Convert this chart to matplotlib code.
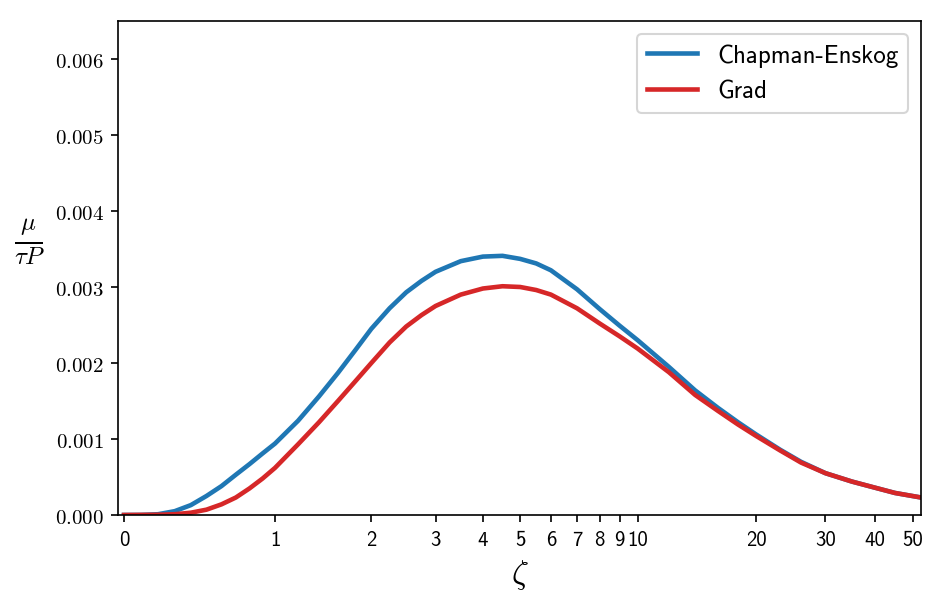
import numpy as np
import matplotlib
matplotlib.use('Agg')
import matplotlib.pyplot as plt
from matplotlib.ticker import FixedLocator, FixedFormatter, NullLocator

plt.rcParams['mathtext.fontset'] = 'cm'

# values
zeta_ce = [0, 0.1, 0.2, 0.3, 0.4, 0.5, 0.6, 0.7, 0.8, 0.9, 1.0, 1.2, 1.4, 1.6, 1.8,
           2.0, 2.25, 2.5, 2.75, 3.0, 3.5, 4.0, 4.5, 5.0, 5.5, 6.0, 7.0, 8.0, 9.0,
           10, 12, 14, 16, 18, 20, 23, 26, 30, 35, 40, 45, 52.4]
mu_ce = [0, 0.000001, 0.00001, 0.00005, 0.00013, 0.00025, 0.00038, 0.00053, 0.00067,
         0.00081, 0.00094, 0.00124, 0.00156, 0.00187, 0.00217, 0.00245, 0.00272,
         0.00293, 0.00308, 0.0032, 0.00334, 0.0034, 0.00341, 0.00337, 0.00331,
         0.00322, 0.00297, 0.00271, 0.00249, 0.0023, 0.00195, 0.00164, 0.00141,
         0.00122, 0.00106, 0.00086, 0.0007, 0.00055, 0.00044, 0.00036, 0.00029,
         0.00023]

zeta_grad = [0, 0.2, 0.3, 0.4, 0.5, 0.6, 0.7, 0.8, 0.9, 1.0, 1.2, 1.4, 1.6, 1.8,
             2.0, 2.25, 2.5, 2.75, 3.0, 3.5, 4.0, 4.5, 5.0, 5.5, 6.0, 7.0, 8.0, 9.0,
             10, 12, 14, 16, 18, 20, 23, 26, 30, 35, 40, 45, 52.4]
mu_grad = [0, 0.000003, 0.00001, 0.00003, 0.00007, 0.00014, 0.00023, 0.00035,
           0.00048, 0.00062, 0.00093, 0.00122, 0.0015, 0.00176, 0.002, 0.00227,
           0.00248, 0.00263, 0.00275, 0.0029, 0.00298, 0.00301, 0.003, 0.00296,
           0.0029, 0.00272, 0.00252, 0.00235, 0.00219, 0.00188, 0.00158, 0.00137,
           0.00119, 0.00104, 0.00085, 0.00069, 0.00055, 0.00044, 0.00036, 0.00029,
           0.00023]

xticks = [0, 1, 2, 3, 4, 5, 6, 7, 8, 9, 10, 20, 30, 40, 50]
yticks = [0.0, 0.001, 0.002, 0.003, 0.004, 0.005, 0.006]

fig = plt.figure(figsize=(6.3, 4.02), dpi=150)
ax = fig.add_axes([0.1249, 0.1443, 0.8497, 0.8192])

ax.plot(zeta_ce, mu_ce, color='#1f77b4', lw=2.2, label='Chapman-Enskog')
ax.plot(zeta_grad, mu_grad, color='#d62728', lw=2.2, label='Grad')

ax.set_xscale('asinh', linear_width=1.0)
ax.set_xlim(-0.035, 52.4)
ax.set_ylim(0, 0.0065)

ax.xaxis.set_major_locator(FixedLocator(xticks))
ax.xaxis.set_major_formatter(FixedFormatter([str(t) for t in xticks]))
ax.xaxis.set_minor_locator(NullLocator())
for lbl in ax.get_xticklabels():
    lbl.set_fontfamily('cmss10')
    lbl.set_fontsize(10)

ax.set_yticks(yticks)
ax.set_yticklabels([r'$%.3f$' % v for v in yticks], fontsize=10)

ax.set_xlabel(r'$\zeta$', fontsize=16)
ax.set_ylabel(r'$\frac{\mu}{\tau P}$', fontsize=17, rotation=0, va='center', ha='center')
ax.yaxis.set_label_coords(-0.11, 0.555)

ax.legend(loc='upper right', prop={'family': 'cmss10', 'size': 12})

fig.savefig('out.png', dpi=150)
